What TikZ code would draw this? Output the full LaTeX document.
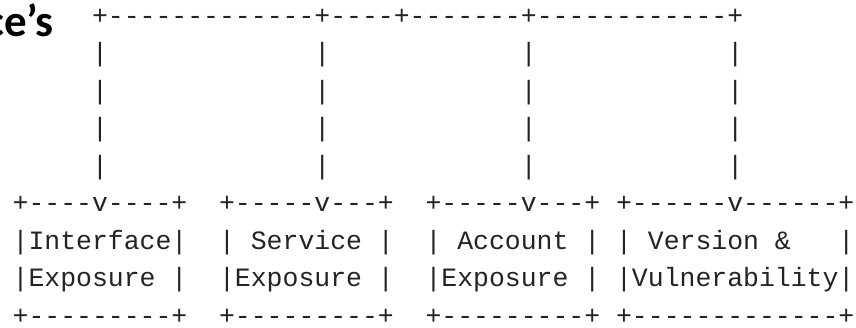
\documentclass[tikz,border=0pt]{standalone}
\usepackage{fontspec}
\setmonofont{Liberation Mono}
\newfontfamily\headfont{Carlito}
\definecolor{ink}{RGB}{35,35,35}
\newcommand\asciifont{\ttfamily\fontsize{26.47}{30}\selectfont}
\tikzset{
  asc/.style={font=\asciifont, anchor=base west, inner sep=0pt, outer sep=0pt, text=ink},
  head/.style={font=\headfont\bfseries\fontsize{45}{50}\selectfont, anchor=base east, inner sep=0pt, text=black}
}
\begin{document}
\begin{tikzpicture}[x=1pt,y=-1pt]
\useasboundingbox (0,0) rectangle (856,328);
\def\cw{15.88}
\def\cz{12.66}
\def\lp{37.5}
\def\ly{24.5}
\node[head] (hd) at (54,37) {ce’s};
% row 0: top bus
\node[asc] (bus) at ({\cz+\cw*5},{\ly}) {+-------------+----+-------+------------+};
% rows 1-4: vertical bars
\foreach \r in {1,2,3,4}{
  \foreach \c/\n in {5/a,19/b,32/c,45/d}{
    \node[asc] (bar\n\r) at ({\cz+\cw*\c},{\ly+\lp*\r}) {|};
  }
}
% row 5: box tops with arrows
\node[asc] (topa) at ({\cz+\cw*0},{\ly+\lp*5}) {+----v----+};
\node[asc] (topb) at ({\cz+\cw*13},{\ly+\lp*5}) {+-----v---+};
\node[asc] (topc) at ({\cz+\cw*26},{\ly+\lp*5}) {+-----v---+};
\node[asc] (topd) at ({\cz+\cw*38},{\ly+\lp*5}) {+------v------+};
% row 6
\node[asc] (la) at ({\cz+\cw*0},{\ly+\lp*6}) {|Interface|};
\node[asc] (lb) at ({\cz+\cw*13},{\ly+\lp*6}) {|~Service~|};
\node[asc] (lc) at ({\cz+\cw*26},{\ly+\lp*6}) {|~Account~|};
\node[asc] (ld) at ({\cz+\cw*38},{\ly+\lp*6}) {|~Version~\&~~~|};
% row 7
\node[asc] (ma) at ({\cz+\cw*0},{\ly+\lp*7}) {|Exposure~|};
\node[asc] (mb) at ({\cz+\cw*13},{\ly+\lp*7}) {|Exposure~|};
\node[asc] (mc) at ({\cz+\cw*26},{\ly+\lp*7}) {|Exposure~|};
\node[asc] (md) at ({\cz+\cw*38},{\ly+\lp*7}) {|Vulnerability|};
% row 8
\node[asc] (ba) at ({\cz+\cw*0},{\ly+\lp*8}) {+---------+};
\node[asc] (bb) at ({\cz+\cw*13},{\ly+\lp*8}) {+---------+};
\node[asc] (bc) at ({\cz+\cw*26},{\ly+\lp*8}) {+---------+};
\node[asc] (bd) at ({\cz+\cw*38},{\ly+\lp*8}) {+-------------+};
\end{tikzpicture}
\end{document}
